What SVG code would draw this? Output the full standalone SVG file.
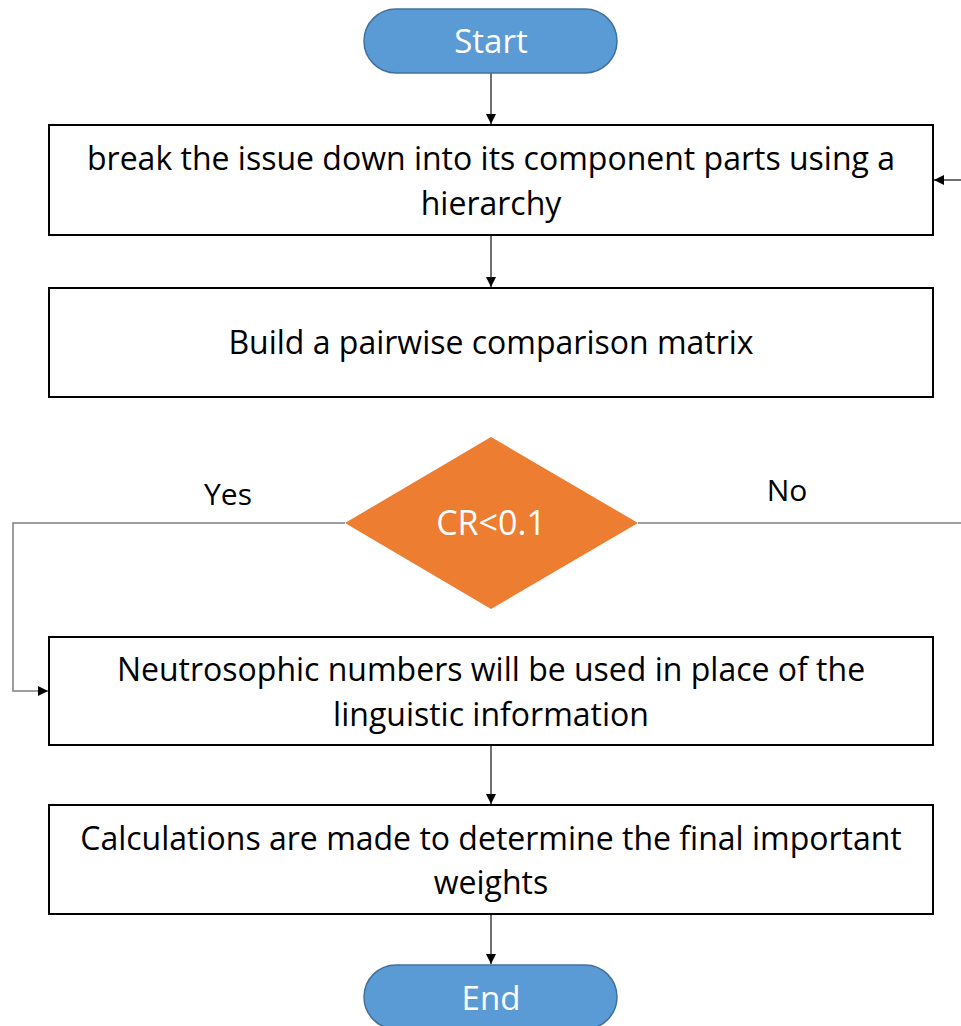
<svg xmlns="http://www.w3.org/2000/svg" width="961" height="1026" viewBox="0 0 961 1026">
<defs>
<marker id="ah" viewBox="0 0 10 10" refX="10" refY="5" markerWidth="10" markerHeight="10" markerUnits="userSpaceOnUse" orient="auto">
<path d="M0,0 L10,5 L0,10 z" fill="#000"/>
</marker>
<style>
.box{fill:#fff;stroke:#000;stroke-width:2}
.term{fill:#5B9BD5;stroke:#41719C;stroke-width:1.5}
.dec{fill:#ED7D31}
.t{font-family:"Open Sans","Liberation Sans",sans-serif;font-size:32px;fill:#000;text-anchor:middle}
.w{fill:#fff}
.c{fill:none;stroke:#404040;stroke-width:1.5}
.g{fill:none;stroke:#7F7F7F;stroke-width:1.5}
</style>
</defs>
<rect width="961" height="1026" fill="#fff"/>
<g id="connectors">
<line class="c" x1="491" y1="73" x2="491" y2="124" marker-end="url(#ah)"/>
<line class="c" x1="491" y1="235" x2="491" y2="287" marker-end="url(#ah)"/>
<line class="c" x1="491" y1="745" x2="491" y2="804" marker-end="url(#ah)"/>
<line class="c" x1="491" y1="914" x2="491" y2="964" marker-end="url(#ah)"/>
<polyline class="g" points="345,523 13,523 13,691 48,691" marker-end="url(#ah)"/>
<line class="g" x1="638" y1="523" x2="961" y2="523"/>
<line class="c" x1="961" y1="180" x2="934" y2="180" marker-end="url(#ah)"/>
<text class="t" x="228" y="505" style="font-size:30px">Yes</text>
<text class="t" x="787" y="501" style="font-size:30px">No</text>
</g>
<g id="start">
<rect class="term" x="364" y="9" width="253" height="64" rx="32"/>
<text class="t w" x="491" y="53" style="font-size:33px">Start</text>
</g>
<g id="decompose">
<rect class="box" x="49" y="125" width="884" height="110"/>
<text class="t" x="491" y="170">break the issue down into its component parts using a</text>
<text class="t" x="491" y="215">hierarchy</text>
</g>
<g id="matrix">
<rect class="box" x="49" y="288" width="884" height="109"/>
<text class="t" x="491" y="354">Build a pairwise comparison matrix</text>
</g>
<g id="decision">
<polygon class="dec" points="491,437 638,523 491,609 345,523"/>
<text class="t w" x="491" y="535" style="font-size:34px">CR&lt;0.1</text>
</g>
<g id="neutrosophic">
<rect class="box" x="49" y="637" width="884" height="108"/>
<text class="t" x="491" y="681">Neutrosophic numbers will be used in place of the</text>
<text class="t" x="491" y="726">linguistic information</text>
</g>
<g id="calculations">
<rect class="box" x="49" y="805" width="884" height="109"/>
<text class="t" x="491" y="850">Calculations are made to determine the final important</text>
<text class="t" x="491" y="894">weights</text>
</g>
<g id="end">
<rect class="term" x="364" y="965" width="253" height="64" rx="32"/>
<text class="t w" x="491" y="1010" style="font-size:33px">End</text>
</g>
</svg>
